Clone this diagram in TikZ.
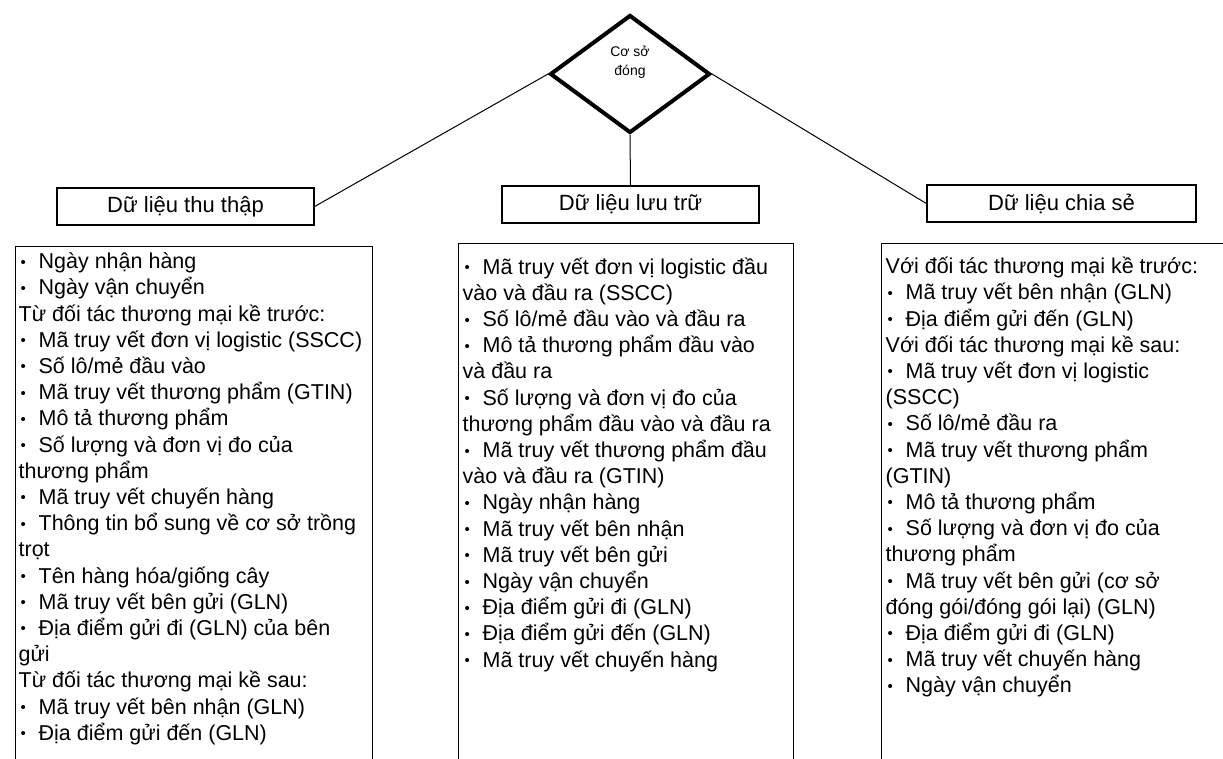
\documentclass[tikz,border=0pt]{standalone}
\usepackage{fontspec}
\setmainfont{Liberation Sans}
\usetikzlibrary{shapes.geometric}
\newcommand{\bl}{\makebox[20pt][l]{\hspace{2pt}\raisebox{1.5pt}{\fontsize{15}{15}\selectfont\textbullet}}}
\newcommand{\firstline}{\rule{0pt}{22pt}}

\begin{document}
\begin{tikzpicture}[x=1pt, y=-1pt,
    every node/.style={font=\fontsize{21.5}{26.2}\selectfont},
    hub/.style={diamond, draw, line width=4pt, minimum width=160pt, minimum height=118pt, inner sep=0pt, font=\fontsize{14}{19}\selectfont},
    header/.style={draw, line width=1.3pt, minimum height=37pt, inner sep=0pt, font=\fontsize{22}{26}\selectfont},
    listbox/.style={draw, line width=1.3pt, anchor=north west, inner xsep=4pt, inner ysep=8.5pt}]

    \useasboundingbox (0,0) rectangle (1223,758);

    % Draw the diamond at the top
    \node[hub] (hub) at (630,74) {\raisebox{8.5pt}[0pt][0pt]{\begin{tabular}{@{}c@{}}Cơ sở\\đóng\end{tabular}}};

    % Draw the three headers
    \node[header, minimum width=257pt] (collect) at (185.5,206.5) {Dữ liệu thu thập};
    \node[header, minimum width=257pt] (store) at (630.5,204.5) {Dữ liệu lưu trữ};
    \node[header, minimum width=269pt] (share) at (1061.5,203.5) {Dữ liệu chia sẻ};

    % Connect the diamond to the headers
    \draw[line width=1pt] (hub.west) -- (collect.east);
    \draw[line width=1pt] (hub.south) -- (store.north);
    \draw[line width=1pt] (hub.east) -- (share.west);

    % Collected data
    \node[listbox, inner xsep=3pt, inner ysep=0pt] (collectlist) at (15,246) {\parbox[t][540pt][t]{351pt}{\firstline
        \bl Ngày nhận hàng\\
        \bl Ngày vận chuyển\\
        Từ đối tác thương mại kề trước:\\
        \bl Mã truy vết đơn vị logistic (SSCC)\\
        \bl Số lô/mẻ đầu vào\\
        \bl Mã truy vết thương phẩm (GTIN)\\
        \bl Mô tả thương phẩm\\
        \bl Số lượng và đơn vị đo của\\
        thương phẩm\\
        \bl Mã truy vết chuyến hàng\\
        \bl Thông tin bổ sung về cơ sở trồng\\
        trọt\\
        \bl Tên hàng hóa/giống cây\\
        \bl Mã truy vết bên gửi (GLN)\\
        \bl Địa điểm gửi đi (GLN) của bên\\
        gửi\\
        Từ đối tác thương mại kề sau:\\
        \bl Mã truy vết bên nhận (GLN)\\
        \bl Địa điểm gửi đến (GLN)}};

    % Stored data
    \node[listbox] (storelist) at (458,243) {\parbox[t][540pt][t]{327pt}{\firstline
        \bl Mã truy vết đơn vị logistic đầu\\
        vào và đầu ra (SSCC)\\
        \bl Số lô/mẻ đầu vào và đầu ra\\
        \bl Mô tả thương phẩm đầu vào\\
        và đầu ra\\
        \bl Số lượng và đơn vị đo của\\
        thương phẩm đầu vào và đầu ra\\
        \bl Mã truy vết thương phẩm đầu\\
        vào và đầu ra (GTIN)\\
        \bl Ngày nhận hàng\\
        \bl Mã truy vết bên nhận\\
        \bl Mã truy vết bên gửi\\
        \bl Ngày vận chuyển\\
        \bl Địa điểm gửi đi (GLN)\\
        \bl Địa điểm gửi đến (GLN)\\
        \bl Mã truy vết chuyến hàng}};

    % Shared data
    \node[listbox, inner ysep=8pt] (sharelist) at (881,243) {\parbox[t][540pt][t]{350pt}{\firstline
        Với đối tác thương mại kề trước:\\
        \bl Mã truy vết bên nhận (GLN)\\
        \bl Địa điểm gửi đến (GLN)\\
        Với đối tác thương mại kề sau:\\
        \bl Mã truy vết đơn vị logistic\\
        (SSCC)\\
        \bl Số lô/mẻ đầu ra\\
        \bl Mã truy vết thương phẩm\\
        (GTIN)\\
        \bl Mô tả thương phẩm\\
        \bl Số lượng và đơn vị đo của\\
        thương phẩm\\
        \bl Mã truy vết bên gửi (cơ sở\\
        đóng gói/đóng gói lại) (GLN)\\
        \bl Địa điểm gửi đi (GLN)\\
        \bl Mã truy vết chuyến hàng\\
        \bl Ngày vận chuyển}};

\end{tikzpicture}
\end{document}
